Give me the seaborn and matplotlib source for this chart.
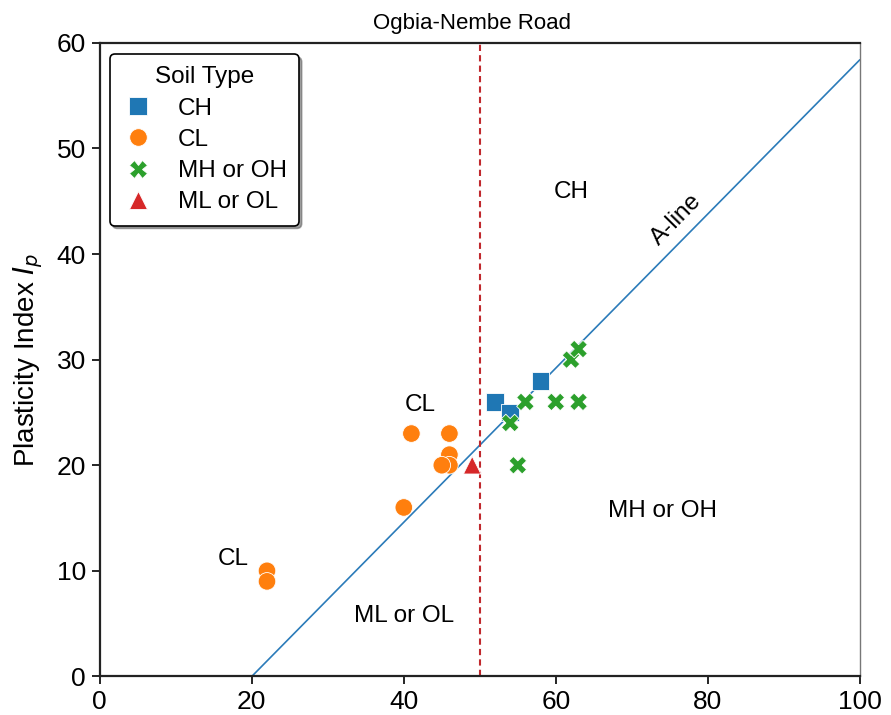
import matplotlib
matplotlib.use("Agg")
import matplotlib.pyplot as plt
import seaborn as sns
import numpy as np
import pandas as pd

# Atterberg limits for Ogbia-Nembe Road samples
ch_ll = [52, 54, 58]
ch_pi = [26, 25, 28]
cl_ll = [22, 22, 40, 41, 46, 46, 46, 45]
cl_pi = [10, 9, 16, 23, 23, 21, 20, 20]
mh_ll = [54, 56, 60, 63, 62, 63, 55]
mh_pi = [24, 26, 26, 26, 30, 31, 20]
ml_ll = [49]
ml_pi = [20]

soil_types = ["CH", "CL", "MH or OH", "ML or OL"]
markers = {"CH": "s", "CL": "o", "MH or OH": "X", "ML or OL": "^"}
palette = {"CH": "#1f77b4", "CL": "#ff7f0e", "MH or OH": "#2ca02c", "ML or OL": "#d62728"}

df = pd.concat([
    pd.DataFrame({"LL": ch_ll, "PI": ch_pi, "Soil Type": "CH"}),
    pd.DataFrame({"LL": cl_ll, "PI": cl_pi, "Soil Type": "CL"}),
    pd.DataFrame({"LL": mh_ll, "PI": mh_pi, "Soil Type": "MH or OH"}),
    pd.DataFrame({"LL": ml_ll, "PI": ml_pi, "Soil Type": "ML or OL"}),
], ignore_index=True)

# A-line: PI = 0.73 (LL - 20)
aline_ll = np.array([20, 100])
aline_pi = 0.73 * (aline_ll - 20)

sns.set_style("white")
plt.rcParams["font.family"] = ["Liberation Sans", "DejaVu Sans"]
plt.rcParams["text.color"] = "black"
plt.rcParams["axes.labelcolor"] = "black"
plt.rcParams["xtick.color"] = "black"
plt.rcParams["ytick.color"] = "black"

fig = plt.figure(figsize=(8.91, 7.15), dpi=100)
ax = fig.add_axes([0.112, 0.054, 0.853, 0.886])

ax.plot(aline_ll, aline_pi, color="#2b7bb9", lw=1.2, zorder=1)
ax.axvline(50, color="#c0282d", ls=(0, (3, 2)), lw=1.5, zorder=1)

sns.scatterplot(data=df, x="LL", y="PI", hue="Soil Type", style="Soil Type",
                hue_order=soil_types, style_order=soil_types,
                markers=markers, palette=palette, s=160, edgecolor="white",
                linewidth=0.6, ax=ax, zorder=3)

ax.set_xlim(0, 100)
ax.set_ylim(0, 60)
ax.set_xticks(range(0, 101, 20))
ax.set_yticks(range(0, 61, 10))
ax.tick_params(axis="both", which="major", labelsize=19, length=6, width=1.2,
               direction="out", left=True, bottom=True, pad=4)
ax.set_xlabel("")
ax.set_ylabel("Plasticity Index $I_p$", fontsize=20, labelpad=8)
ax.set_title("Ogbia-Nembe Road", fontsize=16, pad=10, x=0.49)

for side in ["left", "bottom", "top"]:
    ax.spines[side].set_color("#222222")
    ax.spines[side].set_linewidth(1.6)
ax.spines["right"].set_color("#777777")
ax.spines["right"].set_linewidth(1.0)

# Zone labels
ax.text(62, 45.9, "CH", fontsize=17.5, ha="center", va="center")
ax.text(42.1, 25.7, "CL", fontsize=17.5, ha="center", va="center")
ax.text(17.6, 11.1, "CL", fontsize=17.5, ha="center", va="center")
ax.text(40.1, 5.7, "ML or OL", fontsize=17.5, ha="center", va="center")
ax.text(74, 15.7, "MH or OH", fontsize=17.5, ha="center", va="center")
ax.text(75.9, 43.3, "A-line", fontsize=17.5, ha="center", va="center",
        rotation=45.5)

leg = ax.legend(title="Soil Type", loc="upper left", bbox_to_anchor=(0.013, 0.982),
                borderaxespad=0.0, fontsize=17.5, title_fontsize=17.5,
                frameon=True, fancybox=True, shadow=True, markerscale=1.0,
                handlelength=1.3, handletextpad=1.0,
                borderpad=0.5, labelspacing=0.38)
leg.get_frame().set_edgecolor("black")
leg.get_frame().set_linewidth(1.2)
leg.get_frame().set_alpha(1)

fig.savefig("out.png", dpi=100)
